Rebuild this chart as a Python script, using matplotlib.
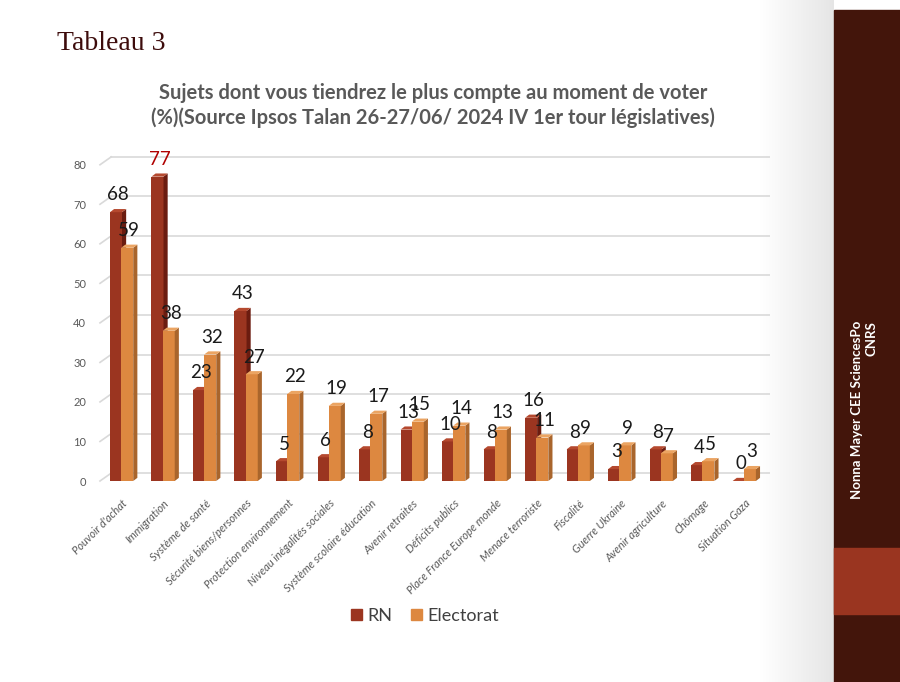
import matplotlib.pyplot as plt
import numpy as np
from matplotlib.patches import Polygon, Rectangle, Patch

categories = ["Pouvoir d'achat", "Immigration", "Système de santé", "Sécurité biens/personnes",
              "Protection environnement", "Niveau inégalités sociales", "Système scolaire éducation",
              "Avenir retraites", "Déficits publics", "Place France Europe monde", "Menace terroriste",
              "Fiscalité", "Guerre Ukraine", "Avenir agriculture", "Chômage", "Situation Gaza"]
rn = [68, 77, 23, 43, 5, 6, 8, 13, 10, 8, 16, 8, 3, 8, 4, 0]
electorat = [59, 38, 32, 27, 22, 19, 17, 15, 14, 13, 11, 9, 9, 7, 5, 3]
yticks = [0, 10, 20, 30, 40, 50, 60, 70, 80]

plt.rcParams['font.family'] = ['Lato', 'DejaVu Sans']

W, H = 900, 682
fig = plt.figure(figsize=(9, 6.82), dpi=100)

# soft shadow before the side band
gax = fig.add_axes([760 / W, 0, 74 / W, 1], zorder=0)
grad = np.linspace(1.0, 0.9, 100).reshape(1, -1)
gax.imshow(np.dstack([grad, grad, grad]), aspect='auto', extent=[0, 1, 0, 1])
gax.axis('off')

ax = fig.add_axes([100 / W, 1 - 481 / H, 670 / W, 336 / H], zorder=1)
ax.patch.set_alpha(0)
xl, xr = -0.53, 15.61
ax.set_xlim(xl, xr)
ax.set_ylim(0, 85)

# back wall grid (3d look)
depth = 2.0
for v in yticks:
    ax.plot([xl, xl + 0.27], [v, v + depth], color='#d9d9d9', lw=1.2, clip_on=False, zorder=1)
    ax.plot([xl + 0.27, xr], [v + depth, v + depth], color='#d9d9d9', lw=1.2, zorder=1)

def bar3d(x0, w, h, front, side, top, z):
    dx, dy = 0.1, 0.8
    ax.bar(x0, h, width=w, align='edge', color=front, zorder=z, linewidth=0)
    ax.add_patch(Polygon([(x0 + w, 0), (x0 + w + dx, dy), (x0 + w + dx, h + dy), (x0 + w, h)],
                         closed=True, color=side, zorder=z, lw=0))
    ax.add_patch(Polygon([(x0, h), (x0 + w, h), (x0 + w + dx, h + dy), (x0 + dx, h + dy)],
                         closed=True, color=top, zorder=z, lw=0))
    return x0 + (w + dx) / 2, h + dy

w = 0.29
for i in range(len(categories)):
    cx, cy = bar3d(i - w, w, rn[i], '#9b3520', '#6b1c10', '#b5492f', 3)
    col = '#b00000' if rn[i] == max(rn) else '#1a1a1a'
    ax.annotate(str(rn[i]), (cx, cy), xytext=(0, 4), textcoords='offset points',
                ha='center', va='bottom', fontsize=13.5, color=col, zorder=6)
    cx, cy = bar3d(i - 0.02, w, electorat[i], '#dd8840', '#a9652c', '#eba462', 4)
    ax.annotate(str(electorat[i]), (cx, cy), xytext=(0, 4), textcoords='offset points',
                ha='center', va='bottom', fontsize=13.5, color='#1a1a1a', zorder=6)

ax.set_yticks(yticks)
ax.set_yticklabels([str(v) for v in yticks], fontsize=8, color='#595959')
ax.set_xticks(range(len(categories)))
ax.set_xticklabels(categories, rotation=45, ha='right', rotation_mode='anchor',
                   fontsize=8, style='italic', color='#595959')
ax.tick_params(axis='both', length=0)
ax.tick_params(axis='x', pad=12)
ax.tick_params(axis='y', pad=10)
for s in ax.spines.values():
    s.set_visible(False)

fig.text(57 / W, 1 - 44 / H, "Tableau 3", fontsize=20, family=['Liberation Serif'],
         color='#3d0c0c', ha='left', va='center')
fig.text(433 / W, 1 - 93 / H, "Sujets dont vous tiendrez le plus compte au moment de voter",
         fontsize=14.5, weight='bold', color='#595959', ha='center', va='center')
fig.text(433 / W, 1 - 118 / H, "(%)(Source Ipsos Talan 26-27/06/ 2024 IV 1er tour législatives)",
         fontsize=14.5, weight='bold', color='#595959', ha='center', va='center')

handles = [Patch(color='#9b3520', label='RN'), Patch(color='#dd8840', label='Electorat')]
fig.legend(handles=handles, loc='center', bbox_to_anchor=(425 / W, 1 - 616 / H), ncol=2,
           frameon=False, fontsize=13, labelcolor='#404040', handlelength=0.6, handleheight=0.6,
           handletextpad=0.3, columnspacing=1.0)

# side band
fig.add_artist(Rectangle((834 / W, 0), 66 / W, 1 - 10 / H, transform=fig.transFigure,
                         color='#43150b', zorder=2))
fig.add_artist(Rectangle((834 / W, 1 - 614 / H), 66 / W, 66 / H, transform=fig.transFigure,
                         color='#9a3520', zorder=3))
fig.text(864 / W, 1 - 410 / H, "Nonna Mayer CEE SciencesPo\nCNRS", rotation=90,
         ha='center', va='center', multialignment='right', fontsize=9.5, weight='bold',
         color='white', zorder=4)

fig.savefig('out.png', dpi=100)
